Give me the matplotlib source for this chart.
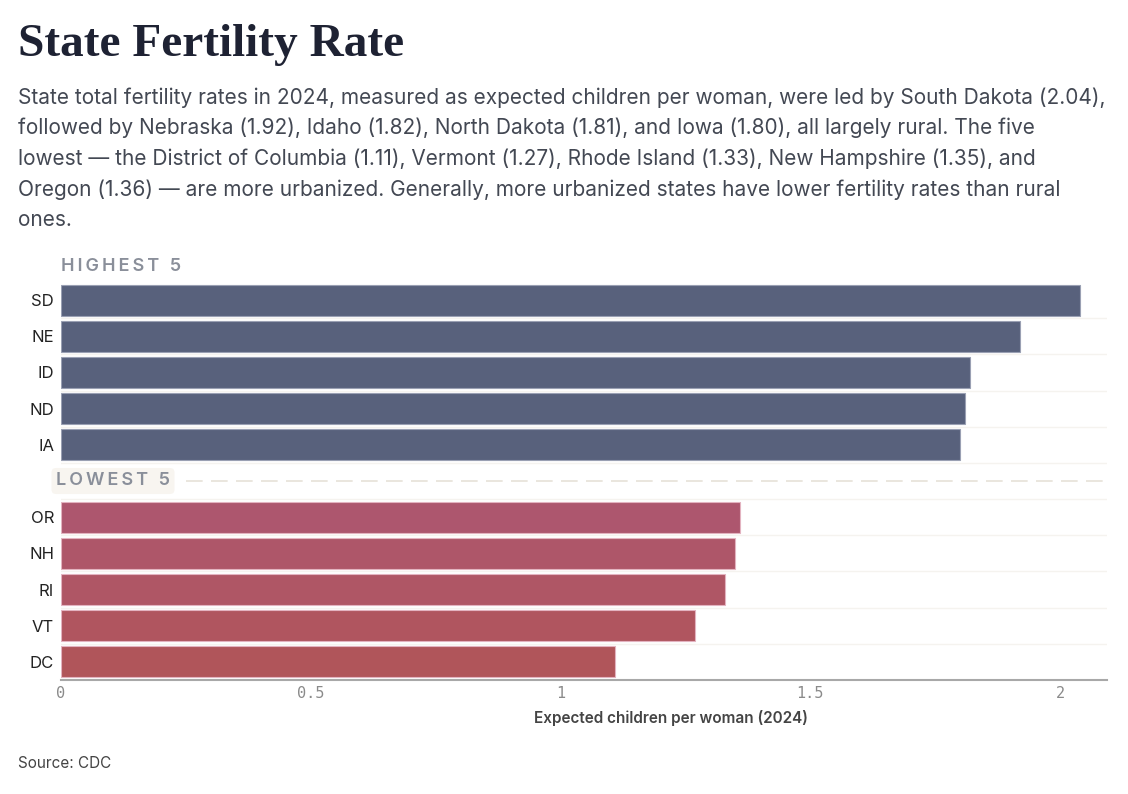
import matplotlib.pyplot as plt
import numpy as np

# Data (2024 total fertility rate, expected children per woman)
high_states = ["SD", "NE", "ID", "ND", "IA"]
high_values = [2.04, 1.92, 1.82, 1.81, 1.80]
low_states = ["OR", "NH", "RI", "VT", "DC"]
low_values = [1.36, 1.35, 1.33, 1.27, 1.11]

high_color = "#58617c"
low_colors = ["#ad566e", "#ae5669", "#af5665", "#b0555f", "#b0555a"]

title = "State Fertility Rate"
subtitle = ("State total fertility rates in 2024, measured as expected children per woman, were led by South Dakota (2.04),\n"
            "followed by Nebraska (1.92), Idaho (1.82), North Dakota (1.81), and Iowa (1.80), all largely rural. The five\n"
            "lowest \u2014 the District of Columbia (1.11), Vermont (1.27), Rhode Island (1.33), New Hampshire (1.35), and\n"
            "Oregon (1.36) \u2014 are more urbanized. Generally, more urbanized states have lower fertility rates than rural\n"
            "ones.")


def spaced(s):
    # crude letter spacing with thin spaces
    return "\u2009".join(s)


fig = plt.figure(figsize=(11.28, 7.94), dpi=100)
ax = fig.add_axes([61 / 1128, 1 - 680 / 794, (1107 - 61) / 1128, 398 / 794])

# row positions: 0-4 high, 5 is the gap row, 6-10 low
high_pos = np.arange(len(high_states))
low_pos = np.arange(len(low_states)) + len(high_states) + 1

ax.barh(high_pos, high_values, height=0.86, color=high_color, edgecolor="#9aa0b3", linewidth=0.8, zorder=3)
ax.barh(low_pos, low_values, height=0.86, color=low_colors, edgecolor="#e3b3c0", linewidth=0.8, zorder=3)

# faint row separators
for y in list(high_pos[1:] - 0.5) + [4.5] + list(low_pos - 0.5):
    ax.axhline(y, color="#f5f3ef", linewidth=1, zorder=1)

ax.set_xlim(0, 2.094)
ax.set_ylim(10.5, -0.5)
ax.set_yticks(list(high_pos) + list(low_pos))
ax.set_yticklabels(high_states + low_states, fontsize=12, color="#222222", family="Inter")
ax.set_xticks([0, 0.5, 1, 1.5, 2])
ax.set_xticklabels(["0", "0.5", "1", "1.5", "2"], family="DejaVu Sans Mono", fontsize=11, color="#8a8a8a")
ax.tick_params(axis="both", length=0, pad=5)
ax.tick_params(axis="x", pad=4)

for s in ["top", "right", "left"]:
    ax.spines[s].set_visible(False)
ax.spines["bottom"].set_color("#a8a8a8")
ax.spines["bottom"].set_linewidth(1.5)

# group labels
ax.text(0, -0.7, spaced("HIGHEST 5"), fontsize=13, fontweight="semibold",
        color="#8a8f9a", ha="left", va="bottom", family=["Inter", "DejaVu Sans"])
ax.text(-0.01, 5, spaced("LOWEST 5"), fontsize=13, fontweight="semibold", color="#8a8f9a", ha="left", va="center",
        family=["Inter", "DejaVu Sans"], zorder=4,
        bbox=dict(boxstyle="round,pad=0.25", facecolor="#f8f5f0", edgecolor="none"))
ax.plot([0.25, 2.094], [5, 5], color="#e6e1d8", linewidth=1.2, linestyle=(0, (10, 5)), zorder=2, clip_on=False)

fig.text(671 / 1128, 1 - 718 / 794, "Expected children per woman (2024)", ha="center", va="center",
         fontsize=11, color="#444444", family="Inter", fontweight="semibold")

fig.text(18 / 1128, 1 - 45 / 794, title, fontsize=34, fontweight="bold", family="Liberation Serif",
         color="#1e2233", ha="left", va="center")
fig.text(18 / 1128, 1 - 87 / 794, subtitle, fontsize=15, family="Inter", color="#434853",
         ha="left", va="top", linespacing=1.62)
fig.text(18 / 1128, 1 - 763 / 794, "Source: CDC", fontsize=11, family="Inter", color="#444444",
         ha="left", va="center")

fig.savefig("out.png", dpi=100, facecolor="white")
